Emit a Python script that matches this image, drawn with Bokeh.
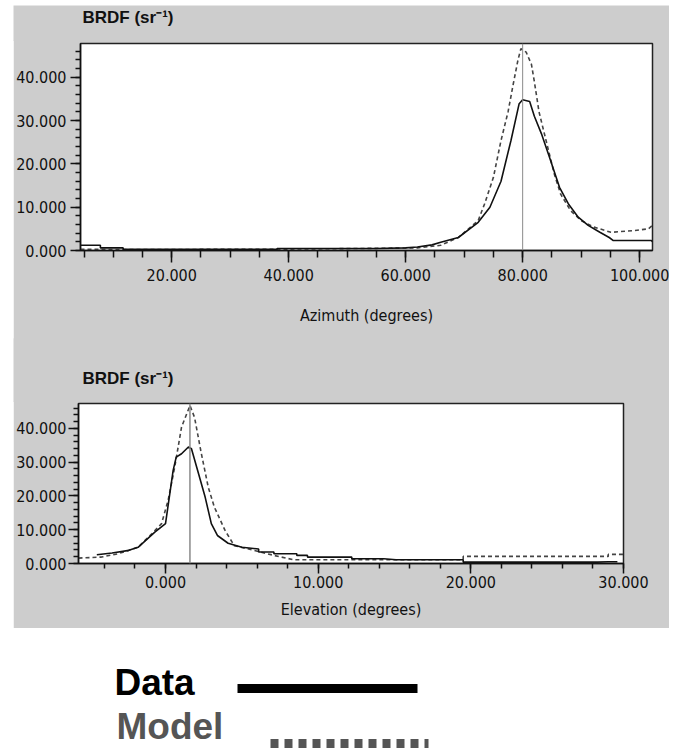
from bokeh.plotting import figure
from bokeh.layouts import column
from bokeh.models import Range1d, FixedTicker, PrintfTickFormatter, Span
from bokeh.core.properties import value
from bokeh.embed import file_html
from bokeh.resources import INLINE

# ---------------- data ----------------
az_data_x = [4.4, 7.8, 7.8, 11.7, 11.7, 38.0, 38.0, 55.0, 60.0, 62.0, 64.5, 66.0, 69.0, 72.4, 74.4, 76.3,
             78.0, 79.4, 80.0, 81.2, 82.0, 83.2, 84.6, 86.3, 87.8, 89.5, 91.2, 93.2, 94.8, 95.5, 102.0, 102.2]
az_data_y = [1.2, 1.2, 0.6, 0.6, 0.25, 0.25, 0.45, 0.45, 0.6, 0.8, 1.3, 1.9, 3.0, 6.5, 10.0, 16.0,
             25.4, 33.9, 34.8, 34.4, 31.0, 27.0, 21.5, 14.6, 10.8, 7.7, 5.8, 4.2, 3.0, 2.3, 2.3, 2.0]

az_model_x = [4.4, 11.7, 38.0, 55.0, 62.0, 66.0, 69.0, 72.4, 73.5, 75.0, 76.3, 77.5, 78.4, 79.2, 79.7,
              80.6, 81.5, 82.0, 82.8, 84.0, 85.4, 86.5, 88.2, 90.0, 92.2, 95.1, 99.0, 101.5, 102.2]
az_model_y = [0.3, 0.2, 0.3, 0.5, 0.6, 1.2, 3.0, 6.9, 10.8, 16.9, 25.4, 32.0, 38.5, 44.0, 46.6,
              45.8, 43.0, 39.0, 32.0, 25.4, 17.7, 13.0, 9.2, 6.9, 5.4, 4.2, 4.6, 5.0, 5.8]

el_data_x = [-4.5, -3.5, -2.4, -1.8, -0.7, 0.0, 0.5, 0.7, 1.05, 1.5, 1.7, 2.1, 2.6, 3.0, 3.4, 4.1, 5.0,
             6.1, 6.1, 7.1, 7.1, 8.6, 8.6, 9.3, 9.3, 12.2, 12.2, 14.3, 15.1, 19.5, 19.5, 28.3, 29.0, 29.6]
el_data_y = [2.6, 3.1, 3.9, 4.8, 9.3, 11.8, 27.6, 31.5, 32.5, 34.5, 34.0, 27.6, 19.6, 11.8, 8.3, 6.0, 4.8,
             4.3, 3.4, 3.4, 2.9, 2.9, 2.4, 2.4, 1.9, 1.9, 1.4, 1.4, 1.1, 1.1, 0.4, 0.4, 0.5, 0.5]

el_model_x = [-5.7, -4.2, -3.1, -1.8, -0.9, -0.26, 0.17, 0.6, 1.05, 1.6, 1.9, 2.35, 2.8, 3.2, 3.9, 4.5,
              5.8, 7.1, 8.4, 11.5, 14.3, 19.5, 19.5, 29.0, 29.0, 30.0]
el_model_y = [1.6, 1.9, 2.9, 4.8, 8.8, 11.8, 18.7, 28.5, 40.4, 46.8, 43.3, 32.5, 22.6, 16.7, 9.8, 5.3,
              3.9, 2.4, 1.1, 1.1, 1.1, 1.1, 2.1, 2.1, 2.7, 2.7]

az_peak = 80.0
el_peak = 1.6

y_major = [0, 10, 20, 30, 40]
y_minor = list(range(0, 48, 2))
az_major = [20, 40, 60, 80, 100]
az_minor = list(range(5, 105, 5))
el_major = [0, 10, 20, 30]
el_minor = list(range(-4, 32, 2))

y_title = "BRDF (sr\u207b\u00b9)"
az_label = "Azimuth (degrees)"
el_label = "Elevation (degrees)"
legend_labels = ["Data", "Model"]

# ---------------- styling ----------------
GRAY = "#cdcdcd"
NARROW = "DejaVu Sans Condensed"
BOLD = "Liberation Sans"


def pixel_figure(width, height, fill):
    f = figure(width=width, height=height, x_range=Range1d(0, width), y_range=Range1d(0, height),
               output_backend="svg", toolbar_location=None, min_border=0,
               x_axis_type=None, y_axis_type=None,
               background_fill_color=fill, border_fill_color=fill)
    f.xgrid.visible = False
    f.ygrid.visible = False
    f.outline_line_color = None
    return f


def title_strip(height, y):
    t = pixel_figure(656, height, GRAY)
    t.text(x=[69], y=[y], text=[y_title], text_color="#111111", text_font=value(BOLD),
           text_font_style="bold", text_font_size="17px", text_baseline="middle", text_align="left")
    return t


def make_panel(width, height, xr, yr, borders, xmaj, xmin, label, tick_out, standoff, label_standoff):
    left, right, top, bottom = borders
    p = figure(width=width, height=height, x_range=Range1d(*xr), y_range=Range1d(*yr),
               output_backend="svg", toolbar_location=None,
               min_border_left=left, min_border_right=right,
               min_border_top=top, min_border_bottom=bottom,
               background_fill_color="white", border_fill_color=GRAY)
    p.xgrid.visible = False
    p.ygrid.visible = False
    p.outline_line_color = "#222222"
    p.outline_line_width = 1.5

    p.xaxis.ticker = FixedTicker(ticks=xmaj, minor_ticks=xmin)
    p.yaxis.ticker = FixedTicker(ticks=y_major, minor_ticks=y_minor)
    for ax in (p.xaxis, p.yaxis):
        ax.formatter = PrintfTickFormatter(format="%.3f")
        ax.axis_line_color = "#111111"
        ax.axis_line_width = 1.5
        ax.major_tick_line_color = "#111111"
        ax.minor_tick_line_color = "#111111"
        ax.major_tick_line_width = 1.5
        ax.minor_tick_line_width = 1.5
        ax.major_tick_in = 0
        ax.minor_tick_in = 0
        ax.major_label_text_font = NARROW
        ax.major_label_text_font_size = "16px"
        ax.major_label_text_color = "#111111"
    p.xaxis.major_tick_out = tick_out[0]
    p.xaxis.minor_tick_out = tick_out[1]
    p.xaxis.major_label_standoff = standoff[0]
    p.yaxis.major_tick_out = 10
    p.yaxis.minor_tick_out = 5
    p.yaxis.major_label_standoff = standoff[1]
    p.xaxis.axis_label = label
    p.xaxis.axis_label_text_font = NARROW
    p.xaxis.axis_label_text_font_size = "16px"
    p.xaxis.axis_label_text_font_style = "normal"
    p.xaxis.axis_label_text_color = "#111111"
    p.xaxis.axis_label_standoff = label_standoff
    return p


t1 = title_strip(36, 24.5)
t1.margin = (5, 0, 0, 13)

p1 = make_panel(656, 299, (4.4, 102.2), (0, 47.8), (64, 17, 3, 89),
                az_major, az_minor, az_label, (12, 7), (6, 4), 22)
p1.margin = (-1, 0, 0, 13)
p1.add_layout(Span(location=az_peak, dimension="height", line_color="#8a8a8a", line_width=1))
p1.line(az_model_x, az_model_y, line_color="#444444", line_width=1.6, line_dash="4 3")
p1.line(az_data_x, az_data_y, line_color="#111111", line_width=1.6)

t2 = title_strip(64, 24.5)
t2.margin = (-1, 0, 0, 13)

p2 = make_panel(656, 227, (-5.7, 30.0), (0, 47.4), (64, 46, 2, 65),
                el_major, el_minor, el_label, (10, 5), (2, 2), 9)
p2.margin = (-1, 0, 0, 13)
p2.add_layout(Span(location=el_peak, dimension="height", line_color="#8a8a8a", line_width=1.5))
p2.line(el_model_x, el_model_y, line_color="#444444", line_width=1.6, line_dash="4 3")
p2.line(el_data_x, el_data_y, line_color="#111111", line_width=1.6)

# ---------------- legend panel ----------------
p3 = pixel_figure(680, 122, "white")
p3.text(x=[114, 116], y=[68, 24], text=legend_labels, text_color=["#000000", "#555555"],
        text_font=value(BOLD), text_font_style="bold", text_font_size="37px",
        text_baseline="middle", text_align="left")
p3.segment(x0=[237], y0=[62], x1=[417], y1=[62], line_color="#000000", line_width=9, line_cap="butt")
p3.segment(x0=[270], y0=[7], x1=[428], y1=[7], line_color="#555555", line_width=9,
           line_dash="8 6", line_cap="butt")

layout = column(column(t1), column(p1), column(t2), column(p2), column(p3), spacing=0)
open("out.html", "w").write(file_html(layout, INLINE))
